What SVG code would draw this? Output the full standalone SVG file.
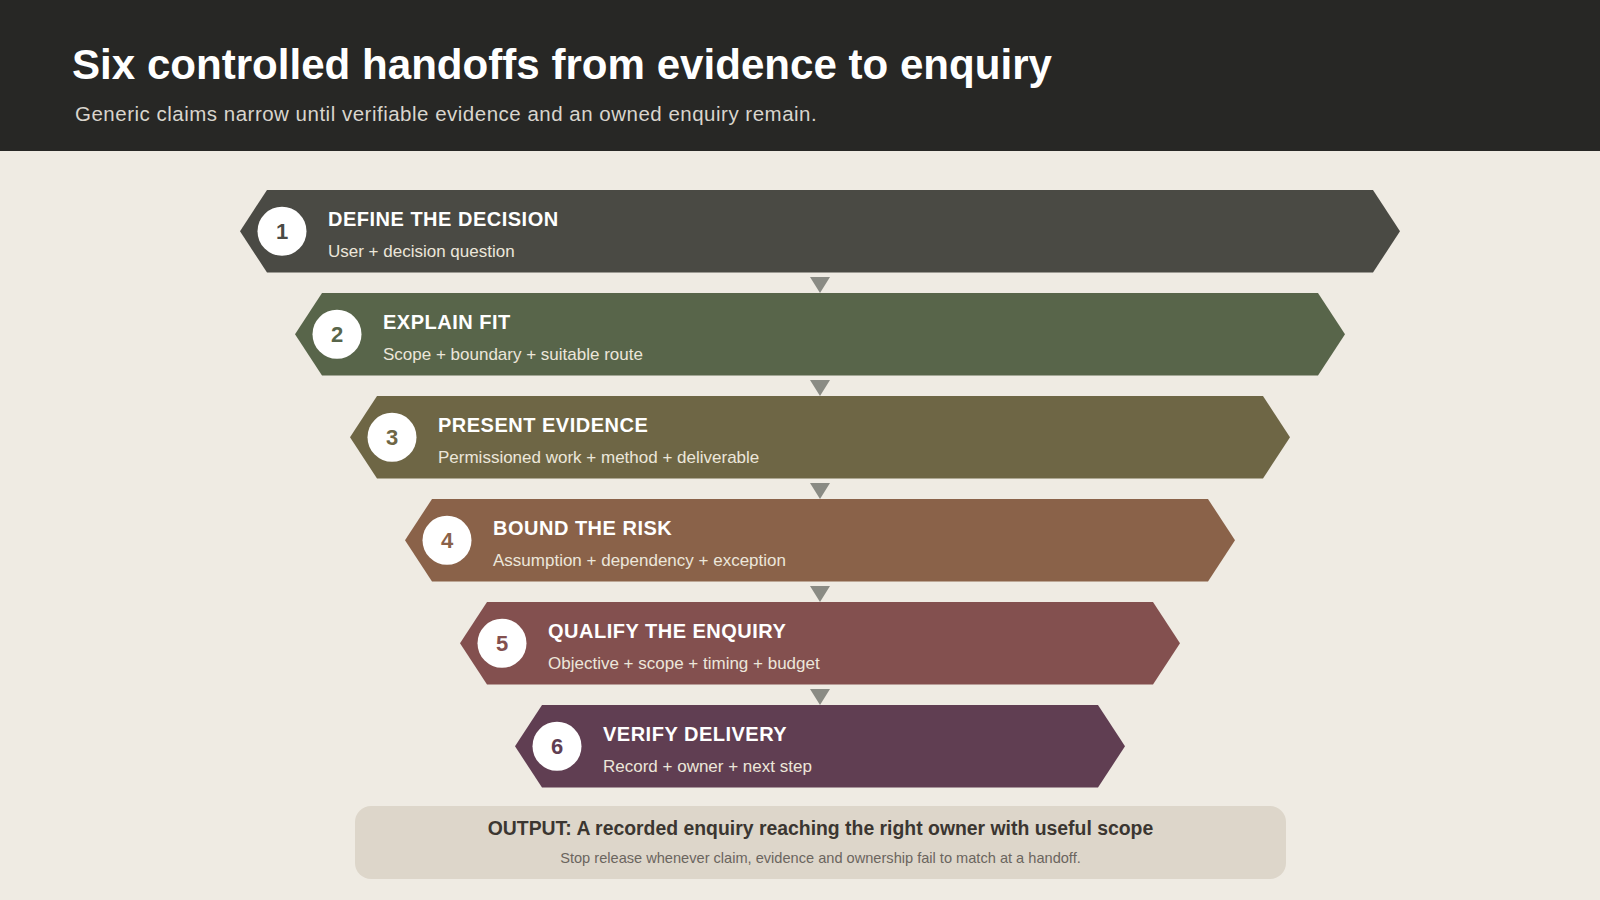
<svg xmlns="http://www.w3.org/2000/svg" width="1600" height="900" viewBox="0 0 1600 900">
<defs>
<style>
.t{font-family:"Liberation Sans",Arial,sans-serif}
.h{font-weight:bold;font-size:20px;fill:#ffffff;letter-spacing:0.5px}
.s{font-size:17px;fill:#ece6da}
.n{font-weight:bold;font-size:22px;text-anchor:middle}
.arr{fill:#8a8b84}
</style>
</defs>
<rect width="1600" height="900" fill="#efebe3"/>
<rect width="1600" height="151" fill="#272725"/>
<text class="t" x="72" y="79" font-size="42.1" font-weight="bold" fill="#ffffff">Six controlled handoffs from evidence to enquiry</text>
<text class="t" x="75" y="120.5" font-size="20.5" letter-spacing="0.5" fill="#d9d5cd">Generic claims narrow until verifiable evidence and an owned enquiry remain.</text>

<g id="connectors">
<polygon class="arr" points="810,277 830,277 820,293"/>
<polygon class="arr" points="810,380 830,380 820,396"/>
<polygon class="arr" points="810,483 830,483 820,499"/>
<polygon class="arr" points="810,586 830,586 820,602"/>
<polygon class="arr" points="810,689 830,689 820,705"/>
</g>

<g id="step1">
<polygon points="240,231.25 267,190 1373,190 1400,231.25 1373,272.5 267,272.5" fill="#4a4a44"/>
<circle cx="282" cy="231.25" r="24.5" fill="#ffffff"/>
<text class="t n" x="282" y="239" fill="#4a4a44">1</text>
<text class="t h" x="328" y="226">DEFINE THE DECISION</text>
<text class="t s" x="328" y="257">User + decision question</text>
</g>

<g id="step2">
<polygon points="295,334.25 322,293 1318,293 1345,334.25 1318,375.5 322,375.5" fill="#58654a"/>
<circle cx="337" cy="334.25" r="24.5" fill="#ffffff"/>
<text class="t n" x="337" y="342" fill="#58654a">2</text>
<text class="t h" x="383" y="329">EXPLAIN FIT</text>
<text class="t s" x="383" y="360">Scope + boundary + suitable route</text>
</g>

<g id="step3">
<polygon points="350,437.25 377,396 1263,396 1290,437.25 1263,478.5 377,478.5" fill="#6e6645"/>
<circle cx="392" cy="437.25" r="24.5" fill="#ffffff"/>
<text class="t n" x="392" y="445" fill="#6e6645">3</text>
<text class="t h" x="438" y="432">PRESENT EVIDENCE</text>
<text class="t s" x="438" y="463">Permissioned work + method + deliverable</text>
</g>

<g id="step4">
<polygon points="405,540.25 432,499 1208,499 1235,540.25 1208,581.5 432,581.5" fill="#8a6249"/>
<circle cx="447" cy="540.25" r="24.5" fill="#ffffff"/>
<text class="t n" x="447" y="548" fill="#8a6249">4</text>
<text class="t h" x="493" y="535">BOUND THE RISK</text>
<text class="t s" x="493" y="566">Assumption + dependency + exception</text>
</g>

<g id="step5">
<polygon points="460,643.25 487,602 1153,602 1180,643.25 1153,684.5 487,684.5" fill="#83504f"/>
<circle cx="502" cy="643.25" r="24.5" fill="#ffffff"/>
<text class="t n" x="502" y="651" fill="#83504f">5</text>
<text class="t h" x="548" y="638">QUALIFY THE ENQUIRY</text>
<text class="t s" x="548" y="669">Objective + scope + timing + budget</text>
</g>

<g id="step6">
<polygon points="515,746.25 542,705 1098,705 1125,746.25 1098,787.5 542,787.5" fill="#603e52"/>
<circle cx="557" cy="746.25" r="24.5" fill="#ffffff"/>
<text class="t n" x="557" y="754" fill="#603e52">6</text>
<text class="t h" x="603" y="741">VERIFY DELIVERY</text>
<text class="t s" x="603" y="772">Record + owner + next step</text>
</g>

<g id="output">
<rect x="355" y="806" width="931" height="73" rx="16" fill="#ddd6ca"/>
<text class="t" x="820.5" y="835" font-size="19.4" font-weight="bold" fill="#3b3631" text-anchor="middle">OUTPUT: A recorded enquiry reaching the right owner with useful scope</text>
<text class="t" x="820.5" y="862.5" font-size="14.6" fill="#6b655e" text-anchor="middle">Stop release whenever claim, evidence and ownership fail to match at a handoff.</text>
</g>
</svg>
